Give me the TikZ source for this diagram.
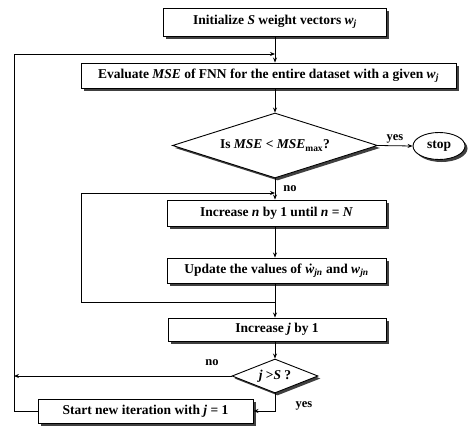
\documentclass[tikz,border=0pt]{standalone}
\usepackage{fontspec}
\setmainfont{Liberation Serif}
\usetikzlibrary{shapes.geometric,shadows,arrows.meta}
\tikzset{
  shd/.style={drop shadow={shadow xshift=2.5pt,shadow yshift=-2.5pt,fill=black!75,opacity=1}},
  txtf/.style={font=\bfseries\fontsize{13.5}{15}\selectfont},
  procbox/.style={draw,line width=0.9pt,fill=white,shd,inner sep=0pt,txtf},
  decide/.style={draw,diamond,line width=0.9pt,fill=white,shd,inner sep=0pt,txtf},
  termnode/.style={draw,ellipse,line width=0.9pt,fill=white,shd,inner sep=0pt,txtf},
  conn/.style={line width=0.8pt},
  arr/.style={conn,-{Stealth[length=5pt,width=4pt]}},
  lbl/.style={font=\bfseries\fontsize{12.5}{14}\selectfont,inner sep=0pt}
}
\newcommand{\vb}[1]{\textbf{\textit{#1}}}
\begin{document}
\begin{tikzpicture}[x=1pt,y=-1pt]
\useasboundingbox (0,0) rectangle (468,431);
\node[procbox,minimum width=223pt,minimum height=28pt] (b1) at (275,22) {Initialize \vb{S} weight vectors \vb{w}\textsubscript{\vb{j}}};
\node[procbox,minimum width=375pt,minimum height=25pt] (b2) at (268.5,75.5) {Evaluate \vb{MSE} of FNN for the entire dataset with a given \vb{w}\textsubscript{\vb{j}}};
\node[decide,aspect=3.15,minimum width=205pt,minimum height=65pt] (d1) at (275,145.5) {Is \vb{MSE} < \vb{MSE}\textsubscript{max}?};
\node[termnode,minimum width=52pt,minimum height=27pt] (stop) at (439,146) {stop};
\node[procbox,minimum width=219pt,minimum height=26pt] (b3) at (276.5,213) {Increase \vb{n} by 1 until \vb{n} = \vb{N}};
\node[procbox,minimum width=219pt,minimum height=25pt] (b4) at (276.5,270.5) {Update the values of \vb{\.{w}}\textsubscript{\vb{jn}} and \vb{w}\textsubscript{\vb{jn}}};
\node[procbox,minimum width=218pt,minimum height=23pt] (b5) at (277,329.5) {Increase \vb{j} by 1};
\node[decide,aspect=2.53,minimum width=86pt,minimum height=34pt] (d2) at (275,376) {\vb{j} >\vb{S} ?};
\node[procbox,minimum width=215pt,minimum height=24pt] (b6) at (145.5,411) {Start new iteration with \vb{j} = 1};

\coordinate (tl) at (14,54);
\coordinate (m0) at (275,54);
\coordinate (m1) at (275,193);
\coordinate (j1) at (275,302);
\coordinate (lp) at (81,302);

\draw[arr] (b1.south -| d1) -- (b2.north -| d1);
\draw[arr] (b2.south -| d1) -- (d1.north);
\draw[arr] (d1.east) -- (stop.west);
\draw[arr] (d1.south) -- (b3.north -| d1);
\draw[arr] (b3.south -| d1) -- (b4.north -| d1);
\draw[arr] (b4.south -| d1) -- (b5.north -| d1);
\draw[arr] (j1) -- (lp) |- (m1);
\draw[arr] (b5.south -| d1) -- (d2.north);
\draw[arr] (d2.south) |- (b6.east);
\draw[arr] (d2.west) -- (d2.west -| tl);
\draw[arr] (b6.west) -- (b6.west -| tl) -- (tl) -- (m0);

\node[lbl] (ly1) at (395,139) {yes};
\node[lbl] (ln1) at (290,189) {no};
\node[lbl] (ln2) at (212,363) {no};
\node[lbl] (ly2) at (304,406) {yes};
\end{tikzpicture}
\end{document}
